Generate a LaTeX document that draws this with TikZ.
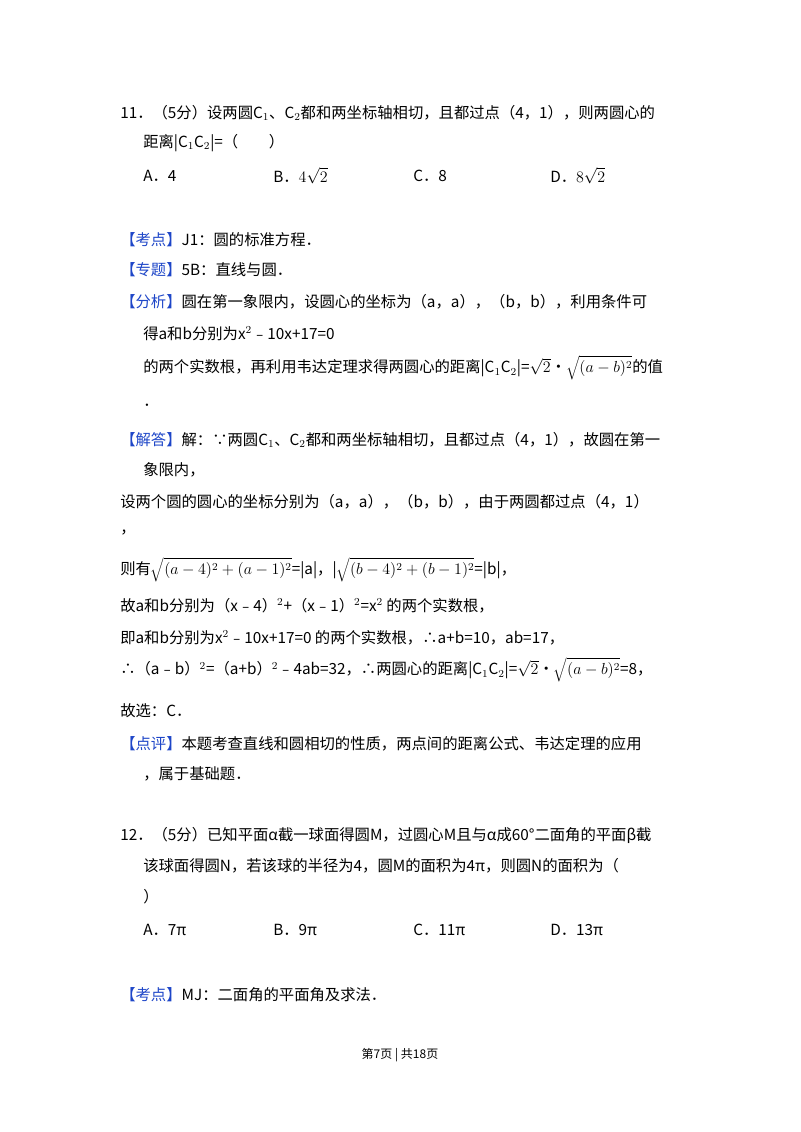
\documentclass[tikz,border=0pt]{standalone}
\usepackage{fontspec}
\setmainfont{Noto Sans CJK SC}
\definecolor{kb}{RGB}{30,70,200}
\begin{document}
\begin{tikzpicture}[x=0.75pt,y=-0.75pt,t/.style={anchor=west,inner sep=0pt,font=\fontsize{11.5pt}{14pt}\selectfont}]
\useasboundingbox[fill=white] (0,0) rectangle (800,1132);
\newcommand{\kd}[1]{\textcolor{kb}{【#1】}}
\node[t] (l1) at (120,113) {11．（5分）设两圆C$_1$、C$_2$都和两坐标轴相切，且都过点（4，1），则两圆心的};
\node[t] (l2) at (143,143) {距离|C$_1$C$_2$|=（\quad\quad ）};
\node[t] (oa) at (143,176) {A．4};
\node[t] (ob) at (273,176) {B．$4\sqrt2$};
\node[t] (oc) at (413,176) {C．8};
\node[t] (od) at (550,176) {D．$8\sqrt2$};
\node[t] (k1) at (120,240) {\kd{考点}J1：圆的标准方程．};
\node[t] (k2) at (120,270) {\kd{专题}5B：直线与圆．};
\node[t] (k3) at (120,302) {\kd{分析}圆在第一象限内，设圆心的坐标为（a，a），（b，b），利用条件可};
\node[t] (k4) at (143,334) {得a和b分别为x$^2$﹣10x+17=0};
\node[t] (k5) at (143,368) {的两个实数根，再利用韦达定理求得两圆心的距离|C$_1$C$_2$|=$\sqrt2$•$\sqrt{(a-b)^2}$的值};
\node[t] (k6) at (143,405) {．};
\node[t] (j1) at (120,440) {\kd{解答}解：∵两圆C$_1$、C$_2$都和两坐标轴相切，且都过点（4，1），故圆在第一};
\node[t] (j2) at (143,470) {象限内，};
\node[t] (j3) at (120,502) {设两个圆的圆心的坐标分别为（a，a），（b，b），由于两圆都过点（4，1）};
\node[t] (j4) at (120,533) {，};
\node[t] (j5) at (120,570) {则有$\sqrt{(a-4)^2+(a-1)^2}$=|a|，|$\sqrt{(b-4)^2+(b-1)^2}$=|b|，};
\node[t] (j6) at (120,606) {故a和b分别为（x﹣4）$^2$+（x﹣1）$^2$=x$^2$ 的两个实数根，};
\node[t] (j7) at (120,638) {即a和b分别为x$^2$﹣10x+17=0 的两个实数根，∴a+b=10，ab=17，};
\node[t] (j8) at (120,670) {∴（a﹣b）$^2$=（a+b）$^2$﹣4ab=32，∴两圆心的距离|C$_1$C$_2$|=$\sqrt2$•$\sqrt{(a-b)^2}$=8，};
\node[t] (j9) at (120,711) {故选：C．};
\node[t] (p1) at (120,744) {\kd{点评}本题考查直线和圆相切的性质，两点间的距离公式、韦达定理的应用};
\node[t] (p2) at (143,774) {，属于基础题．};
\node[t] (m1) at (120,835) {12．（5分）已知平面α截一球面得圆M，过圆心M且与α成60°二面角的平面β截};
\node[t] (m2) at (143,866) {该球面得圆N，若该球的半径为4，圆M的面积为4π，则圆N的面积为（};
\node[t] (m3) at (143,897) {）};
\node[t] (qa) at (143,930) {A．7π};
\node[t] (qb) at (273,930) {B．9π};
\node[t] (qc) at (413,930) {C．11π};
\node[t] (qd) at (550,930) {D．13π};
\node[t] (m4) at (120,995) {\kd{考点}MJ：二面角的平面角及求法．};
\node[inner sep=0pt,font=\fontsize{9pt}{11pt}\selectfont] (ft) at (400,1055) {第7页 | 共18页};
\end{tikzpicture}
\end{document}
